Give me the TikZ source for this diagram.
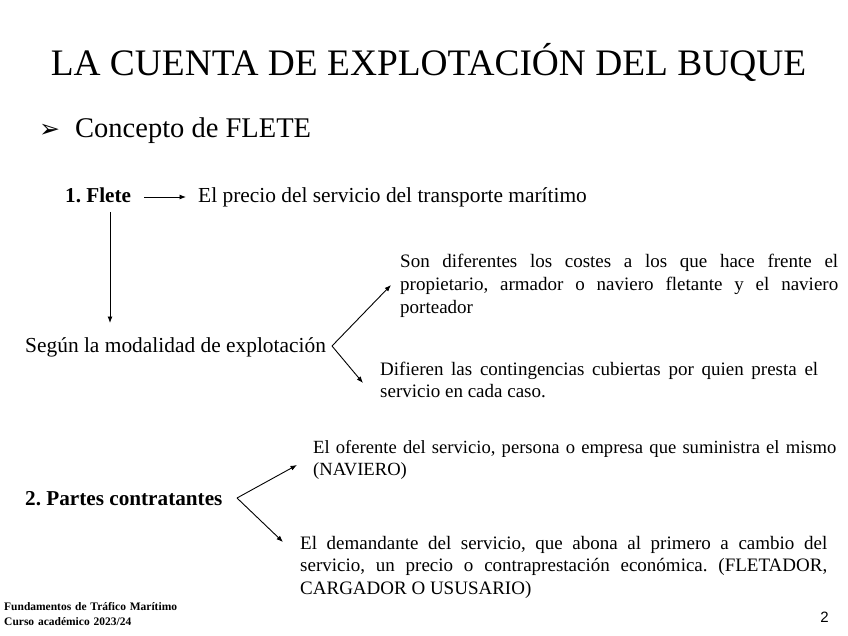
\documentclass[tikz,border=0pt]{standalone}
\usepackage{fontspec}
\setmainfont{Liberation Serif}
\newfontfamily\dejavu{DejaVu Sans}
\newfontfamily\arialf{Liberation Sans}
\usetikzlibrary{arrows.meta,calc}
\tikzset{
  arr/.style={line width=0.9pt,-{Latex[length=6.5pt,width=5pt]}},
  lbl/.style={inner sep=0pt,anchor=base west,font=\fontsize{21.4}{25}\selectfont},
  lblb/.style={lbl,font=\fontsize{21.2}{25}\selectfont\bfseries},
  para/.style={inner sep=0pt,anchor=base west,font=\fontsize{19}{22.5}\selectfont,align=justify},
}
\begin{document}
\frenchspacing
\begin{tikzpicture}[x=1pt,y=-1pt]
\useasboundingbox[fill=white] (0,0) rectangle (848,636);
% title
\node[inner sep=0pt,anchor=base,font=\fontsize{37.4}{40}\selectfont] (title) at (428.5,76) {LA CUENTA DE EXPLOTACIÓN DEL BUQUE};
\node[inner sep=0pt,anchor=base west,font=\dejavu\fontsize{25}{28}\selectfont] (bullet) at (39,138) {➢};
\node[inner sep=0pt,anchor=base west,font=\fontsize{28.5}{32}\selectfont] (concepto) at (75,138) {Concepto de FLETE};
% part 1
\node[lblb] (flete) at (65,203) {1. Flete};
\node[lbl] (precio) at (198,203) {El precio del servicio del transporte marítimo};
\node[lbl] (segun) at (25,352) {Según la modalidad de explotación};
\node[para,text width=438pt] (son) at (400,268) {Son diferentes los costes a los que hace frente el\linebreak propietario, armador o naviero fletante y el naviero\linebreak porteador};
\node[para,text width=438pt] (dif) at (380,375) {Difieren las contingencias cubiertas por quien presta el\linebreak servicio en cada caso.};
\coordinate (c1) at (332,346);
\coordinate (t1a) at (391,285);
\coordinate (t1b) at (363,383);
\draw[arr] ([xshift=13pt,yshift=6pt]flete.base east) -- ([xshift=-12pt,yshift=6pt]precio.base west);
\draw[arr] ($(flete.base west)+(45,9)$) -- ($(segun.base west)+(85,-29)$);
\draw[arr] (c1) -- (t1a);
\draw[arr] (c1) -- (t1b);
% part 2
\node[lblb] (partes) at (25,505) {2. Partes contratantes};
\node[para,text width=560pt,align=left,font=\fontsize{18.6}{22.5}\selectfont] (oferente) at (313,453) {El oferente del servicio, persona o empresa que suministra el mismo\\(NAVIERO)};
\node[para,text width=527pt] (demandante) at (300,549) {El demandante del servicio, que abona al primero a cambio del\linebreak servicio, un precio o contraprestación económica. (FLETADOR,\linebreak CARGADOR O USUSARIO)};
\coordinate (c2) at (237,498);
\coordinate (t2a) at (297,465);
\coordinate (t2b) at (283,542);
\draw[arr] (c2) -- (t2a);
\draw[arr] (c2) -- (t2b);
% footer
\node[inner sep=0pt,anchor=base west,text width=220pt,align=left,font=\fontsize{11.5}{15}\selectfont\bfseries] (footer) at (4,610) {Fundamentos de Tráfico Marítimo\\Curso académico 2023/24};
\node[inner sep=0pt,anchor=base east,font=\arialf\fontsize{15}{18}\selectfont] (pagenum) at (829,622) {2};
\end{tikzpicture}
\end{document}
